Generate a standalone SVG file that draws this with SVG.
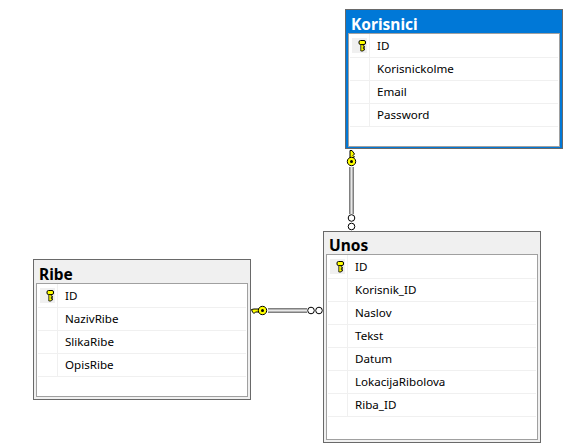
<svg xmlns="http://www.w3.org/2000/svg" width="583" height="447" viewBox="0 0 583 447">
<style>
text{font-family:"Noto Sans","Open Sans","Liberation Sans",sans-serif}
.t{font-size:15.500px;font-weight:700;fill:#000}
.w{fill:#fff}
.f{font-size:11.600px;fill:#000}
.o{fill:#f0f0f0;stroke:#696969;stroke-width:1}
.i{fill:#fff;stroke:#a0a0a0;stroke-width:1}
.r{stroke:#f0f0f0;stroke-width:1;fill:none}
.k{fill:#f0f0f0}
.c{fill:#fff;stroke:#000;stroke-width:1}
.s1{stroke:#808080;stroke-width:5;fill:none}
.s2{stroke:#e8e8e8;stroke-width:2;fill:none}
.y{fill:#ffff00;stroke:#000;stroke-width:1}
</style>
<defs>
<g id="key"><rect x="-3" y="-4.500" width="6.500" height="4" rx="1.500" class="y"/><path d="M-1.200 -.5V6H1.200V5H2.500V3.500H1.200V2.500H2.500V1.200H1.200V-.5Z" fill="#ffff00" stroke="#000" stroke-width=".8"/></g>
</defs>
<rect width="583" height="447" fill="#fff"/>
<g id="connectors">
<path class="s1" d="M351.500 167V214"/><path class="s2" d="M351.500 167V214"/>
<path d="M350 150.500H352L354.500 154L353 155.500L354.500 157L352.500 158V160H350Z" class="y"/>
<circle cx="351.500" cy="161.500" r="4.200" class="y"/><circle cx="351.500" cy="161.500" r="1.500" fill="#000"/>
<circle class="c" cx="351.500" cy="218" r="3.300"/><circle class="c" cx="351.500" cy="226.500" r="3.300"/>
<path class="s1" d="M268 310.500H307"/><path class="s2" d="M268 310.500H307"/>
<path d="M251.500 309.500L254 309H259V312H255.500L254 313.500L252.500 312Z" class="y"/>
<circle cx="262.500" cy="310.500" r="4.200" class="y"/><circle cx="262.500" cy="310.500" r="1.500" fill="#000"/>
<circle class="c" cx="311" cy="310.500" r="3.300"/><circle class="c" cx="319" cy="310.500" r="3.300"/>
</g>
<g id="korisnici">
<rect x="345.500" y="9.500" width="217" height="139" fill="#0078d7" stroke="#696969"/>
<rect x="348.500" y="33.500" width="211" height="113" class="i"/>
<text class="t w" x="351" y="30">Korisnici</text>
<path class="r" d="M350 57.500H558M350 80.500H558M350 103.500H558M350 126.500H558M369.500 34V126"/>
<rect class="k" x="352" y="38" width="15" height="15"/>
<use href="#key" x="362" y="45"/>
<text class="f" x="377" y="50">ID</text><text class="f" x="377" y="73">Korisnickolme</text><text class="f" x="377" y="96">Email</text><text class="f" x="377" y="119">Password</text>
</g>
<g id="unos">
<rect x="323.500" y="231.500" width="217" height="211" class="o"/>
<rect x="326.500" y="254.500" width="211" height="185" class="i"/>
<text class="t" x="329" y="251">Unos</text>
<path class="r" d="M328 278.500H536M328 301.500H536M328 324.500H536M328 347.500H536M328 370.500H536M328 393.500H536M328 416.500H536M347.500 255V416"/>
<rect class="k" x="330" y="259" width="15" height="15"/>
<use href="#key" x="340" y="266"/>
<text class="f" x="355" y="271">ID</text><text class="f" x="355" y="294">Korisnik_ID</text><text class="f" x="355" y="317">Naslov</text><text class="f" x="355" y="340">Tekst</text><text class="f" x="355" y="363">Datum</text><text class="f" x="355" y="386">LokacijaRibolova</text><text class="f" x="355" y="409">Riba_ID</text>
</g>
<g id="ribe">
<rect x="33.500" y="259.500" width="217" height="140" class="o"/>
<rect x="36.500" y="283.500" width="211" height="113" class="i"/>
<text class="t" x="39" y="280">Ribe</text>
<path class="r" d="M38 307.500H246M38 330.500H246M38 353.500H246M38 376.500H246M57.500 284V376"/>
<rect class="k" x="40" y="288" width="15" height="15"/>
<use href="#key" x="50" y="295"/>
<text class="f" x="65" y="300">ID</text><text class="f" x="65" y="323">NazivRibe</text><text class="f" x="65" y="346">SlikaRibe</text><text class="f" x="65" y="369">OpisRibe</text>
</g>
</svg>
